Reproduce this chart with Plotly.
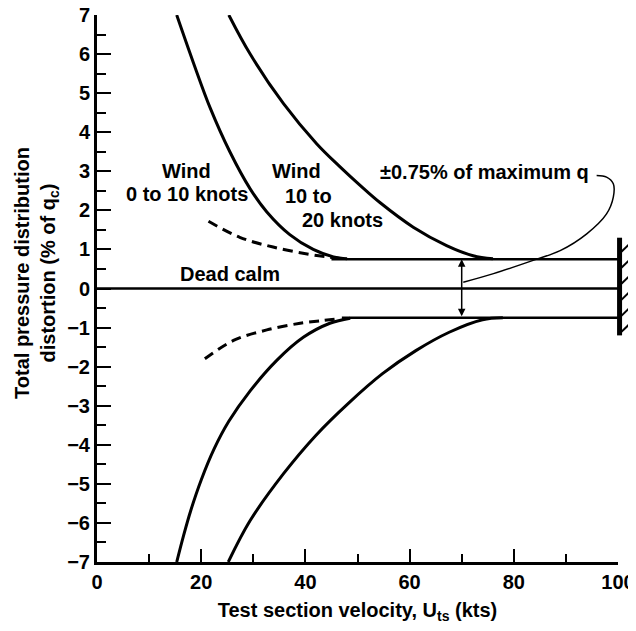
import plotly.graph_objects as go

# ---- data ----
calm_x = [0, 100]
calm_y = [0, 0]

band_up_x = [45, 100]
band_up_y = [0.75, 0.75]
band_lo_x = [47, 100]
band_lo_y = [-0.75, -0.75]

w010_up_x = [15.3, 18.5, 21.7, 25.5, 29.4, 32.6, 37.0, 41.5, 45.4, 48.0]
w010_up_y = [7.0, 5.78, 4.63, 3.50, 2.55, 1.96, 1.38, 1.0, 0.81, 0.76]

w1020_up_x = [25.3, 29.4, 35.8, 42.2, 46.6, 50.5, 54.3, 60.7, 67.1, 72.2, 76.0]
w1020_up_y = [7.0, 6.0, 4.73, 3.70, 3.12, 2.64, 2.20, 1.57, 1.10, 0.84, 0.76]

w010_lo_x = [15.3, 16.6, 18.0, 20.0, 22.5, 25.3, 29.4, 34.5, 39.6, 44.7, 48.6]
w010_lo_y = [-7.0, -6.33, -5.68, -4.9, -4.1, -3.40, -2.62, -1.84, -1.25, -0.89, -0.76]

w1020_lo_x = [25.2, 29.4, 35.8, 42.0, 48.4, 54.8, 61.2, 67.6, 74.0, 77.9]
w1020_lo_y = [-7.0, -5.94, -4.74, -3.76, -2.92, -2.18, -1.59, -1.12, -0.80, -0.75]

dash_up_x = [21.4, 27.4, 33.8, 40.9, 44.7, 47.0]
dash_up_y = [1.72, 1.31, 1.06, 0.87, 0.80, 0.76]
dash_lo_x = [20.7, 26.2, 32.6, 39.0, 43.4, 46.5]
dash_lo_y = [-1.80, -1.33, -1.06, -0.89, -0.82, -0.77]

leader_x = [95.9, 97.8, 99.1, 99.1, 97.8, 94.0, 88.9, 83.7, 76.1, 70.3]
leader_y = [2.89, 2.85, 2.68, 2.34, 1.91, 1.40, 0.97, 0.72, 0.38, 0.16]

arrow_x = 70
tol = 0.75

wall_y = [-1.2, 1.3]
hatch_y = [0.92, 0.51, 0.10, -0.31, -0.72, -1.13]
hatch_rise = 0.40

FONT = "Liberation Sans"
BLACK = "#000000"

fig = go.Figure()

def line(x, y, width=3, dash=None):
    fig.add_trace(go.Scatter(
        x=x, y=y, mode="lines", showlegend=False, hoverinfo="skip",
        line=dict(color=BLACK, width=width, dash=dash, shape="spline", smoothing=1.0)))

line(calm_x, calm_y, 2.5)
line(band_up_x, band_up_y, 2.5)
line(band_lo_x, band_lo_y, 2.5)
line(w010_up_x, w010_up_y)
line(w1020_up_x, w1020_up_y)
line(w010_lo_x, w010_lo_y)
line(w1020_lo_x, w1020_lo_y)
line(dash_up_x, dash_up_y, 3, "10px,6px")
line(dash_lo_x, dash_lo_y, 3, "10px,6px")
line(leader_x, leader_y, 1.5)

shapes = []
# wall bar at the right end of the axis
shapes.append(dict(type="line", xref="paper", yref="y", x0=1.003, x1=1.003,
                   y0=wall_y[0], y1=wall_y[1], line=dict(color=BLACK, width=5)))
for hy in hatch_y:
    shapes.append(dict(type="line", xref="paper", yref="y", x0=1.005, x1=1.036,
                       y0=hy, y1=hy + hatch_rise, line=dict(color=BLACK, width=2)))

tf = dict(family=FONT, size=20, color=BLACK, weight="bold")

annotations = []
def label(text, x, y):
    annotations.append(dict(text=text, x=x, y=y, xref="x", yref="y", showarrow=False,
                            xanchor="center", yanchor="middle", font=tf))

label("Wind", 17.2, 3.0)
label("0 to 10 knots", 17.2, 2.43)
label("Wind", 38.3, 3.0)
label("10 to", 40.5, 2.36)
label("20 knots", 47.1, 1.75)
label("Dead calm", 25.5, 0.38)
label("±0.75% of maximum q", 74.4, 2.97)

annotations.append(dict(x=arrow_x, y=tol, ax=arrow_x, ay=-tol, xref="x", yref="y",
                        axref="x", ayref="y", showarrow=True, arrowhead=2, startarrowhead=2,
                        arrowside="end+start", arrowsize=1, arrowwidth=1.5, arrowcolor=BLACK,
                        text=""))

annotations.append(dict(text="Total pressure distribution<br>distortion (% of q<sub>c</sub>)",
                        textangle=-90, xref="paper", yref="y", x=-0.115, y=0.4,
                        xanchor="center", yanchor="middle", showarrow=False, font=tf))

fig.update_layout(
    width=628, height=623,
    margin=dict(l=89, r=18, t=7, b=69, autoexpand=False),
    paper_bgcolor="white", plot_bgcolor="white",
    font=tf,
    shapes=shapes, annotations=annotations,
    xaxis=dict(range=[0, 100], tick0=0, dtick=20, showline=True, linecolor=BLACK, linewidth=3,
               ticks="inside", ticklen=13, tickwidth=2, tickcolor=BLACK, automargin=False,
               ticklabeloverflow="allow",
               minor=dict(ticks="inside", dtick=10, ticklen=8, tickwidth=2, tickcolor=BLACK, showgrid=False),
               showgrid=False, zeroline=False, tickfont=tf,
               title=dict(text="Test section velocity, U<sub>ts</sub> (kts)", font=tf, standoff=11)),
    yaxis=dict(range=[-7, 7], tick0=0, dtick=1, showline=True, linecolor=BLACK, linewidth=3,
               ticks="inside", ticklen=14, tickwidth=2, tickcolor=BLACK, automargin=False,
               ticklabeloverflow="allow",
               minor=dict(ticks="inside", dtick=0.5, ticklen=9, tickwidth=2, tickcolor=BLACK, showgrid=False),
               showgrid=False, zeroline=False, tickfont=tf),
)

fig.write_html("out.html")
